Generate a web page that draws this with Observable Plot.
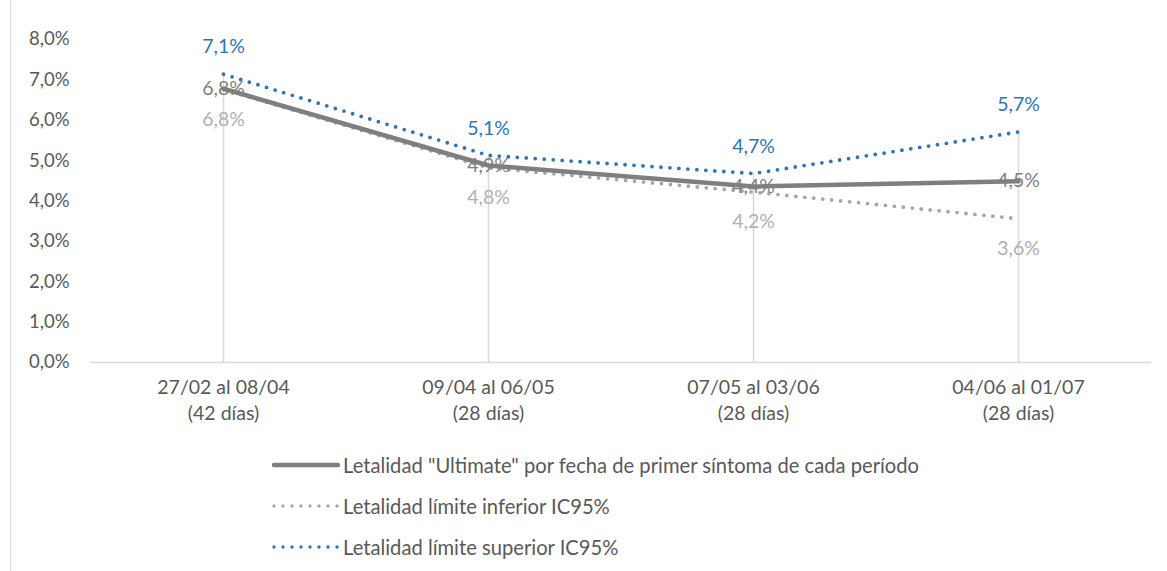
<!DOCTYPE html>
<html>
<head>
<meta charset="utf-8">
<script src="https://cdn.jsdelivr.net/npm/d3@7"></script>
<script src="https://cdn.jsdelivr.net/npm/@observablehq/plot@0.6"></script>
<style>
  html, body { margin: 0; padding: 0; background: #fff; }
  #wrap { position: relative; width: 1167px; height: 571px; overflow: hidden; font-family: Lato, "Open Sans", sans-serif; background: #fff; }
  #chart { position: absolute; left: 0; top: 0; }
  #frame { position: absolute; left: 10px; top: 0; width: 0; height: 571px; border-left: 1px solid #d9d9d9; }
  #legend { position: absolute; left: 272px; top: 444px; color: #595959; font-size: 20.2px; }
  .row { display: flex; align-items: center; height: 41px; }
  .row svg { margin-right: 3px; }
</style>
</head>
<body>
<div id="wrap">
  <div id="chart"></div>
  <div id="frame"></div>
  <div id="legend"></div>
</div>
<script>
const periods = ["27/02 al 08/04\n(42 días)", "09/04 al 06/05\n(28 días)", "07/05 al 03/06\n(28 días)", "04/06 al 01/07\n(28 días)"];
const ultimate = [6.78, 4.88, 4.36, 4.49];
const lower = [6.76, 4.82, 4.22, 3.56];
const upper = [7.14, 5.13, 4.68, 5.71];
const seriesNames = [
  "Letalidad \"Ultimate\" por fecha de primer síntoma de cada período",
  "Letalidad límite inferior IC95%",
  "Letalidad límite superior IC95%"
];
const yTicks = [0, 1, 2, 3, 4, 5, 6, 7, 8];

const colors = { ult: "#7f7f7f", low: "#a6a6a6", up: "#2e75b6" };
const fmt = v => v.toFixed(1).replace(".", ",") + "%";

const rows = periods.map((p, i) => ({ p, ult: ultimate[i], low: lower[i], up: upper[i], max: Math.max(ultimate[i], lower[i], upper[i]) }));

const chart = Plot.plot({
  width: 1167,
  height: 440,
  marginLeft: 90,
  marginRight: 16,
  marginTop: 39,
  marginBottom: 78,
  style: { fontFamily: "Lato, 'Open Sans', sans-serif", fontSize: "19px", color: "#595959", background: "transparent" },
  x: { type: "point", domain: periods, padding: 0.5, label: null },
  y: { domain: [0, 8], label: null },
  marks: [
    Plot.ruleX(rows, { x: "p", y1: 0, y2: "max", stroke: "#d9d9d9", strokeWidth: 1.5 }),
    Plot.ruleY([0], { stroke: "#d9d9d9", strokeWidth: 1.5 }),
    Plot.axisY({ ticks: yTicks, tickFormat: fmt, tickSize: 0, tickPadding: 21, fill: "#595959", fontSize: 18.5, label: null }),
    Plot.axisX({ tickSize: 0, tickPadding: 13, fill: "#595959", fontSize: 19.5, lineHeight: 1.33, label: null }),
    Plot.line(rows, { x: "p", y: "low", stroke: colors.low, strokeWidth: 3.8, strokeDasharray: "0 9", strokeLinecap: "round" }),
    Plot.line(rows, { x: "p", y: "ult", stroke: colors.ult, strokeWidth: 4.5 }),
    Plot.line(rows, { x: "p", y: "up", stroke: colors.up, strokeWidth: 3.8, strokeDasharray: "0 9", strokeLinecap: "round" }),
    Plot.text(rows, { x: "p", y: "up", text: d => fmt(d.up), dy: -27, fill: colors.up, fontSize: 19.5 }),
    Plot.text(rows, { x: "p", y: "ult", text: d => fmt(d.ult), fill: colors.ult, fontSize: 19.5 }),
    Plot.text(rows, { x: "p", y: "low", text: d => fmt(d.low), dy: 30, fill: "#b0b0b0", fontSize: 19.5 })
  ]
});
document.getElementById("chart").appendChild(chart);

const legendSpecs = [
  { name: seriesNames[0], color: colors.ult, width: 4.5, dash: null },
  { name: seriesNames[1], color: colors.low, width: 3.4, dash: "0 9" },
  { name: seriesNames[2], color: colors.up, width: 3.4, dash: "0 9" }
];
const legend = d3.select("#legend");
legendSpecs.forEach(s => {
  const row = legend.append("div").attr("class", "row");
  const sv = row.append("svg").attr("width", 68).attr("height", 12);
  const ln = sv.append("line").attr("x1", 2).attr("x2", 66).attr("y1", 6).attr("y2", 6)
    .attr("stroke", s.color).attr("stroke-width", s.width).attr("stroke-linecap", "round");
  if (s.dash) ln.attr("stroke-dasharray", s.dash);
  row.append("span").text(s.name);
});
</script>
</body>
</html>
